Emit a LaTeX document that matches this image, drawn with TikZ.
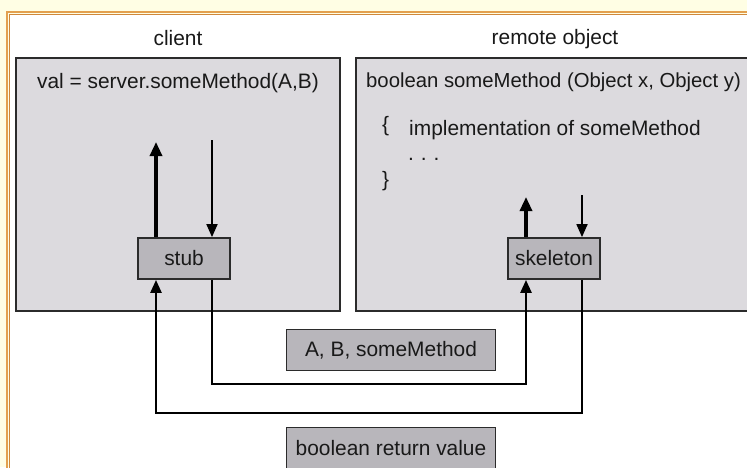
\documentclass[tikz,border=0pt]{standalone}
\usepackage{fontspec}
\setmainfont{Liberation Sans}
\usetikzlibrary{arrows.meta}
\definecolor{bgyellow}{HTML}{FFFEE4}
\definecolor{frameout}{HTML}{E3A04E}
\definecolor{framein}{HTML}{D0883A}
\definecolor{panelgray}{HTML}{DCDADE}
\definecolor{boxgray}{HTML}{B8B6BB}
\definecolor{edgegray}{HTML}{2B2B2B}
\tikzset{
  panel/.style={draw=edgegray, line width=2pt, fill=panelgray, inner sep=0pt, minimum height=253pt},
  stubbox/.style={draw=edgegray, line width=1.8pt, fill=boxgray, inner sep=0pt, minimum width=92pt, minimum height=41pt, font=\fontsize{20.9}{24}\selectfont, text=black!90},
  labelbox/.style={draw=edgegray, line width=1.8pt, fill=boxgray, inner sep=0pt, minimum width=209pt, minimum height=41pt, font=\fontsize{20.9}{24}\selectfont, text=black!90},
  txt/.style={anchor=base, inner sep=0pt, font=\fontsize{20.9}{24}\selectfont, text=black!90},
  thickarrow/.style={line width=3.2pt, -{Triangle[length=14pt,width=12pt]}},
  thinarrow/.style={line width=1.8pt, -{Triangle[length=13pt,width=11pt]}},
  wire/.style={line width=2.6pt, -{Triangle[length=13pt,width=11pt]}},
}
\begin{document}
\begin{tikzpicture}[x=1pt,y=-1pt]
\useasboundingbox (0,0) rectangle (747,467);
\clip (0,0) rectangle (747,467);
\fill[bgyellow] (0,0) rectangle (747,467);
\fill[white] (10,15) rectangle (760,480);
\draw[frameout, line width=2pt] (7,480) -- (7,12) -- (760,12);
\draw[framein, line width=1.2pt] (9.8,480) -- (9.8,14.8) -- (760,14.8);

% panels
\node[panel, minimum width=324pt] (client) at (178,184.5) {};
\node[panel, minimum width=414pt] (remote) at (563,184.5) {};

% titles
\node[txt] (clientt) at (178,45) {client};
\node[txt] (remotet) at (555,44) {remote object};

% code
\node[txt] (call) at (178,88) {val = server.someMethod(A,B)};
\node[txt, anchor=base west, font=\fontsize{20.3}{24}\selectfont] (sig) at (366,87) {boolean someMethod (Object x, Object y)};
\node[txt, anchor=base west] (lbr) at (382,131) {\{};
\node[txt, anchor=base west] (impl) at (409,135) {implementation of someMethod};
\node[txt, anchor=base west] (dots) at (408,160) {.\,\,.\,\,.};
\node[txt, anchor=base west] (rbr) at (382,186) {\}};

% stub and skeleton
\node[stubbox] (stub) at (184,258.5) {stub};
\node[stubbox] (skel) at (554,258.5) {skeleton};

% labels
\node[labelbox] (lab1) at (391,350) {A, B, someMethod};
\node[labelbox] (lab2) at (391,448) {boolean return value};

% free ends
\coordinate (cu) at (156,142);
\coordinate (cd) at (212,140);
\coordinate (ru) at (526,197);
\coordinate (rd) at (582,195);
\coordinate (w1) at (0,384);
\coordinate (w2) at (0,413);

% local arrows
\draw[thickarrow] (stub.north -| cu) -- (cu);
\draw[thinarrow] (cd) -- (stub.north -| cd);
\draw[thickarrow] (skel.north -| ru) -- (ru);
\draw[thinarrow] (rd) -- (skel.north -| rd);

% wires
\draw[wire] (stub.south -| cd) -- (w1 -| cd) -- (w1 -| ru) -- (skel.south -| ru);
\draw[wire] (skel.south -| rd) -- (w2 -| rd) -- (w2 -| cu) -- (stub.south -| cu);
\end{tikzpicture}
\end{document}
